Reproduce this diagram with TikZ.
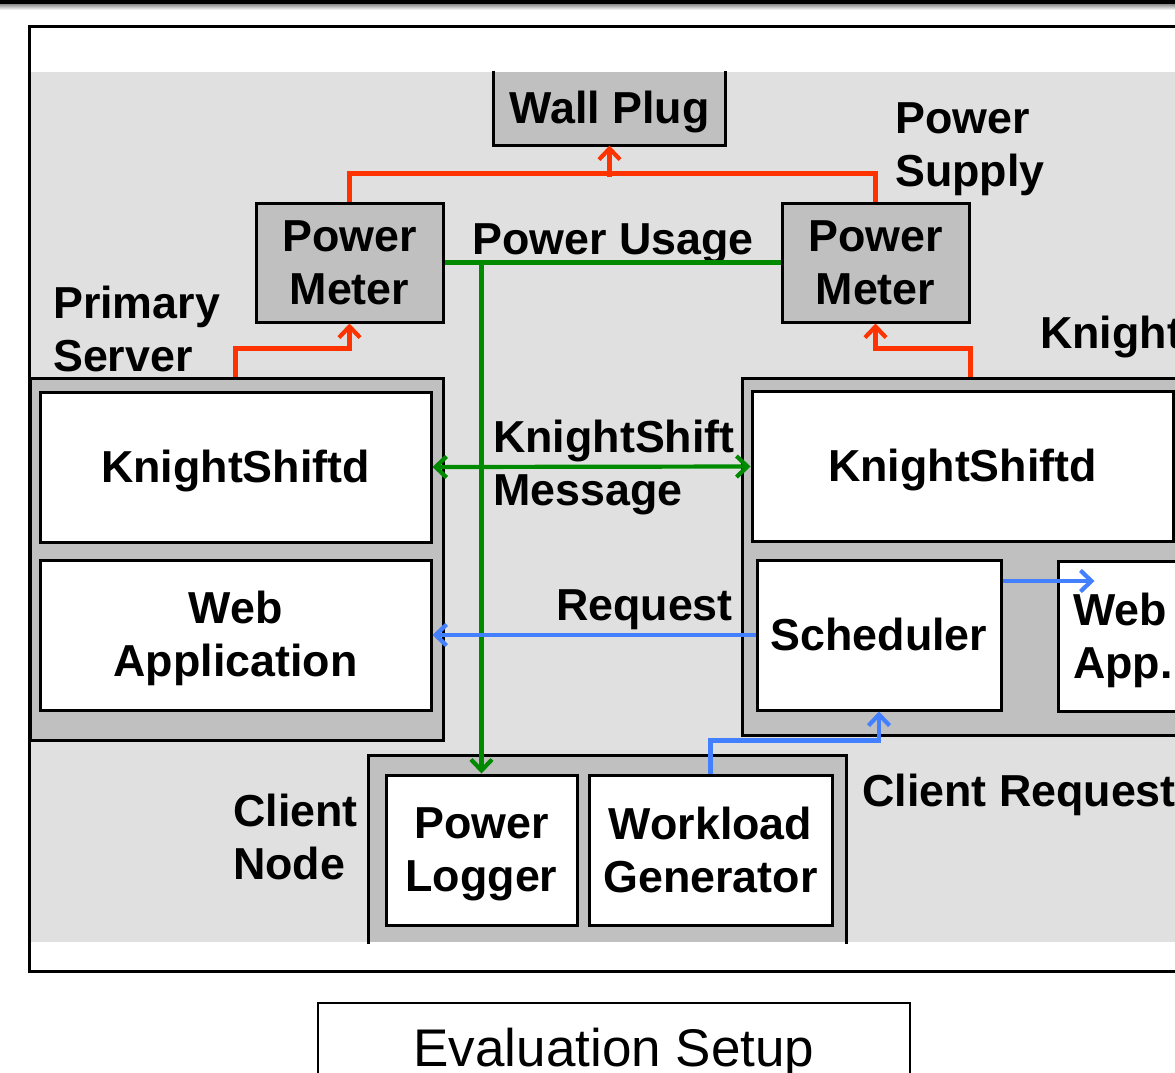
\documentclass[tikz,border=0pt]{standalone}
\usepackage{fontspec}
\setmainfont{Liberation Sans}
\usetikzlibrary{arrows.meta,calc}
\definecolor{bgg}{RGB}{224,224,224}
\definecolor{boxg}{RGB}{192,192,192}
\definecolor{pred}{RGB}{255,51,0}
\definecolor{pgreen}{RGB}{0,138,0}
\definecolor{pblue}{RGB}{66,128,255}
\newcommand{\kstrut}{\rule[-8.4pt]{0pt}{48.4pt}}
\begin{document}
\begin{tikzpicture}[x=1pt,y=-1pt,
  bigfont/.style={font=\fontsize{44.8}{53}\selectfont\bfseries},
  lbl/.style={bigfont, inner sep=0pt, align=left},
  wbox/.style={draw=black, line width=3pt, fill=white, bigfont, align=center, inner sep=0pt},
  gbox/.style={draw=black, line width=3pt, fill=boxg, bigfont, align=center, inner sep=0pt},
  conn/.style={line width=4.2pt},
  tipend/.style={-{Straight Barb[length=11pt,width=21pt]}},
  tipboth/.style={{Straight Barb[length=11pt,width=21pt]}-{Straight Barb[length=11pt,width=21pt]}},
  redline/.style={conn, draw=pred},
  greenline/.style={conn, draw=pgreen},
  blueline/.style={conn, draw=pblue}
]
\useasboundingbox (0,0) rectangle (1175,1072);
\clip (0,0) rectangle (1175,1072);
\fill[white] (0,0) rectangle (1175,1072);
% top bar
\fill[black] (0,0) rectangle (1175,4);
\shade[top color=black!45, bottom color=white] (0,4) rectangle (1175,10);
% frame and background
\draw[line width=3pt] (29,26) rectangle (1220,971);
\fill[bgg] (30.5,72) rectangle (1175,942);

% wall plug
\node[gbox, draw=none, minimum width=229pt, minimum height=72pt] (wp) at (609.5,108) {\kstrut Wall Plug};
\draw[line width=3pt] (wp.north west) -- (wp.south west) -- (wp.south east) -- (wp.north east);

% power meters
\node[gbox, minimum width=187pt, minimum height=119pt] (pm1) at (349.5,262.5) {\kstrut Power\\\kstrut Meter};
\node[gbox, minimum width=187pt, minimum height=119pt] (pm2) at (875.5,262.5) {\kstrut Power\\\kstrut Meter};

% primary server
\node[gbox, minimum width=413pt, minimum height=362pt] (ps) at (236.5,559) {};
\node[wbox, minimum width=391pt, minimum height=150pt] (ksl) at (235.5,467) {\kstrut KnightShiftd};
\node[wbox, minimum width=391pt, minimum height=150pt] (wal) at (235.5,635) {\kstrut Web\\\kstrut Application};

% knightshift server
\node[gbox, minimum width=558pt, minimum height=357pt] (rs) at (1021,556.5) {};
\node[wbox, minimum width=421pt, minimum height=150pt] (ksr) at (962.5,466.5) {\kstrut KnightShiftd};
\node[wbox, minimum width=244pt, minimum height=150pt] (sch) at (879,635) {\kstrut Scheduler};
\node[wbox, minimum width=242pt, minimum height=150pt] (wa) at (1179,636) {};
\node[lbl, anchor=west] (waT) at (1073,637) {\kstrut Web\\\kstrut App.};

% client node
\node[gbox, draw=none, minimum width=475pt, minimum height=185pt] (cn) at (607.5,849.5) {};
\draw[line width=3pt] (cn.south west) -- (cn.north west) -- (cn.north east) -- (cn.south east);
\node[wbox, minimum width=191pt, minimum height=150pt] (pl) at (481.5,850) {\kstrut Power\\\kstrut Logger};
\node[wbox, minimum width=243pt, minimum height=150pt] (wg) at (710.5,850) {\kstrut Workload\\\kstrut Generator};

% labels
\node[lbl, anchor=west] (lps) at (895,145) {\kstrut Power\\\kstrut Supply};
\node[lbl, anchor=west] (lpr) at (53,329.5) {\kstrut Primary\\\kstrut Server};
\node[lbl, anchor=base west] (lks) at (1040,348) {Knight};
\node[lbl, anchor=base west] (lpu) at (472,254) {Power Usage};
\node[lbl, anchor=west] (lkm) at (493,463.5) {\kstrut KnightShift\\\kstrut Message};
\node[lbl, anchor=base east] (lrq) at (733,620) {Request};
\node[lbl, anchor=west] (lcn) at (233,837.5) {\kstrut Client\\\kstrut Node};
\node[lbl, anchor=base west] (lcr) at (862,806) {Client Request};

% red connectors
\draw[redline] (pm1.north) -- ++(0,-28) -| (pm2.north);
\coordinate (wpj) at ($(wp.south)+(0,31)$);
\draw[redline, tipend] (wpj) -- (wp.south);
\draw[redline, tipend] (ps.north -| ksl.center) -- ++(0,-28) -| (pm1.south);
\draw[redline, tipend] (rs.north -| pm2.east) -- ++(0,-28) -| (pm2.south);

% green connectors
\draw[greenline] (pm1.east) -- (pm2.west);
\draw[greenline, tipend] (pl.north |- pm1.east) -- (pl.north);
\draw[greenline, tipboth] (ksl.east) -- (ksr.west);

% blue connectors
\draw[blueline, tipend] (sch.west) -- (wal.east);
\coordinate (sa) at ($(sch.east)+(0,-54)$);
\draw[blueline, tipend] (sa) -- ++(92,0);
\draw[blueline, tipend] (wg.north) -- ++(0,-33) -| (sch.south);

% caption
\draw[line width=2pt] (318,1100) |- (910,1003) -- (910,1100);
\node[font=\fontsize{53}{60}\selectfont, inner sep=0pt, anchor=base] (ev) at (614,1066) {Evaluation Setup};
\end{tikzpicture}
\end{document}
